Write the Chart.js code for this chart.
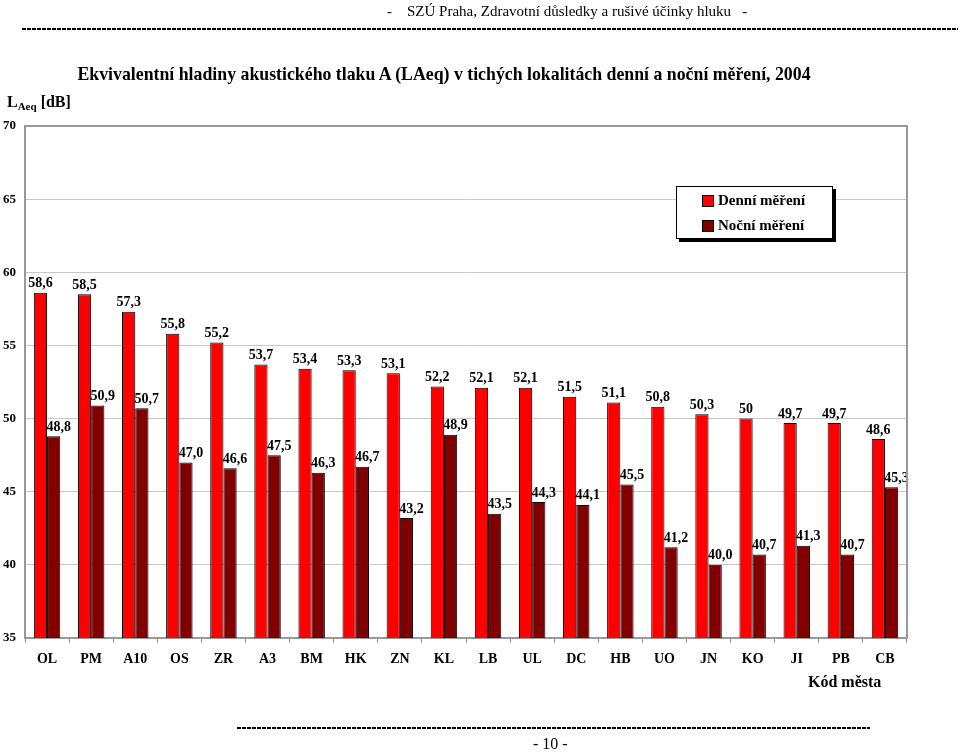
<!DOCTYPE html>
<html>
<head>
<meta charset="utf-8">
<script src="https://cdn.jsdelivr.net/npm/chart.js@4"></script>
<style>
  html, body { margin:0; padding:0; background:#fff; }
  body { width:960px; height:753px; position:relative; overflow:hidden; font-family:"Liberation Serif","Times New Roman",serif; }
  #wrap { position:absolute; left:0; top:0; width:960px; height:753px; }
  .abs { position:absolute; white-space:nowrap; color:#000; }
  .dash { position:absolute; height:2px; background:repeating-linear-gradient(to right,#000 0 4px,transparent 4px 5px); }
  #legend { position:absolute; left:676px; top:186px; width:155px; height:51px; border:1px solid #000; background:#fff; box-shadow:3px 3px 0 #000; font-weight:bold; font-size:15px; }
  #legend .it { position:absolute; left:25px; display:flex; align-items:center; }
  #legend .sw { width:10px; height:10px; border:1px solid #000; margin-right:4px; }
</style>
</head>
<body>
<div id="wrap"><canvas id="c" width="960" height="753"></canvas></div>
<div class="abs" style="left:387px;top:3px;font-size:15px;">-&nbsp;&nbsp;&nbsp;&nbsp;SZÚ Praha, Zdravotní důsledky a rušivé účinky hluku&nbsp;&nbsp;&nbsp;-</div>
<div class="dash" style="left:22px;top:28px;width:936px;"></div>
<div class="abs" id="title" style="left:0;width:888px;text-align:center;top:64px;font-size:17.8px;font-weight:bold;"></div>
<div class="abs" style="left:7px;top:93px;font-size:16px;font-weight:bold;">L<sub style="font-size:11px;vertical-align:-3px;">Aeq</sub> [dB]</div>
<div class="abs" id="xtitle" style="left:808px;top:673px;font-size:16px;font-weight:bold;"></div>
<div class="dash" style="left:237px;top:727px;width:633px;"></div>
<div class="abs" style="left:533px;top:735px;font-size:16px;">- 10 -</div>
<div id="legend"></div>
<script>
const titleText = "Ekvivalentní hladiny akustického tlaku A (LAeq) v tichých lokalitách denní a noční měření, 2004";
const xAxisTitle = "Kód města";
const categories = ["OL","PM","A10","OS","ZR","A3","BM","HK","ZN","KL","LB","UL","DC","HB","UO","JN","KO","JI","PB","CB"];
const dayValues = [58.6,58.5,57.3,55.8,55.2,53.7,53.4,53.3,53.1,52.2,52.1,52.1,51.5,51.1,50.8,50.3,50,49.7,49.7,48.6];
const nightValues = [48.8,50.9,50.7,47.0,46.6,47.5,46.3,46.7,43.2,48.9,43.5,44.3,44.1,45.5,41.2,40.0,40.7,41.3,40.7,45.3];
const seriesNames = ["Denní měření","Noční měření"];
const seriesColors = ["#ff0000","#800000"];
const yTicks = [35,40,45,50,55,60,65,70];

document.getElementById('title').textContent = titleText;
document.getElementById('xtitle').textContent = xAxisTitle;
const lg = document.getElementById('legend');
seriesNames.forEach((n,i)=>{
  const d = document.createElement('div'); d.className='it'; d.style.top = (5+i*25)+'px';
  const s = document.createElement('span'); s.className='sw'; s.style.background = seriesColors[i];
  const t = document.createElement('span'); t.textContent = n;
  d.appendChild(s); d.appendChild(t); lg.appendChild(d);
});

const fmt = [v => String(v).replace('.',','), v => v.toFixed(1).replace('.',',')];

const labelPlugin = {
  id:'vals',
  afterDatasetsDraw(chart){
    const ctx = chart.ctx;
    ctx.save();
    ctx.font = 'bold 14px "Liberation Serif"';
    ctx.fillStyle = '#000';
    ctx.textAlign = 'center';
    ctx.textBaseline = 'middle';
    chart.data.datasets.forEach((ds,di)=>{
      chart.getDatasetMeta(di).data.forEach((el,i)=>{
        ctx.fillText(fmt[di](ds.data[i]), el.x + (di===1?5:0), el.y - 9);
      });
    });
    ctx.restore();
  }
};
const borderPlugin = {
  id:'frame',
  afterDraw(chart){
    const a = chart.chartArea, ctx = chart.ctx;
    ctx.save();
    ctx.strokeStyle = '#999';
    ctx.lineWidth = 2;
    ctx.beginPath();
    ctx.moveTo(a.left, a.top); ctx.lineTo(a.right, a.top); ctx.lineTo(a.right, a.bottom);
    ctx.stroke();
    ctx.restore();
  }
};

new Chart(document.getElementById('c'), {
  type:'bar',
  data:{
    labels: categories,
    datasets:[
      {label:seriesNames[0], data:dayValues, backgroundColor:seriesColors[0], borderColor:'#000', borderWidth:1, categoryPercentage:0.6, barPercentage:1},
      {label:seriesNames[1], data:nightValues, backgroundColor:seriesColors[1], borderColor:'#000', borderWidth:1, categoryPercentage:0.6, barPercentage:1}
    ]
  },
  options:{
    responsive:false, animation:false,
    layout:{padding:{top:126, right:53, bottom:0, left:0}},
    plugins:{legend:{display:false}, tooltip:{enabled:false}},
    scales:{
      x:{
        afterFit(s){ s.height = 115; },
        grid:{drawOnChartArea:false, drawTicks:true, tickLength:5, color:'#999', offset:true},
        border:{color:'#999', width:2},
        ticks:{color:'#000', font:{family:'Liberation Serif', size:14, weight:'bold'}, padding:8, maxRotation:0, autoSkip:false}
      },
      y:{
        min:35, max:70,
        afterFit(s){ s.width = 25; },
        afterBuildTicks(s){ s.ticks = yTicks.map(v=>({value:v})); },
        grid:{color:'#c8c8c8', drawTicks:false, lineWidth:1},
        border:{color:'#999', width:2},
        ticks:{color:'#000', font:{family:'Liberation Serif', size:13, weight:'bold'}, padding:9}
      }
    }
  },
  plugins:[labelPlugin, borderPlugin]
});
</script>
</body>
</html>
